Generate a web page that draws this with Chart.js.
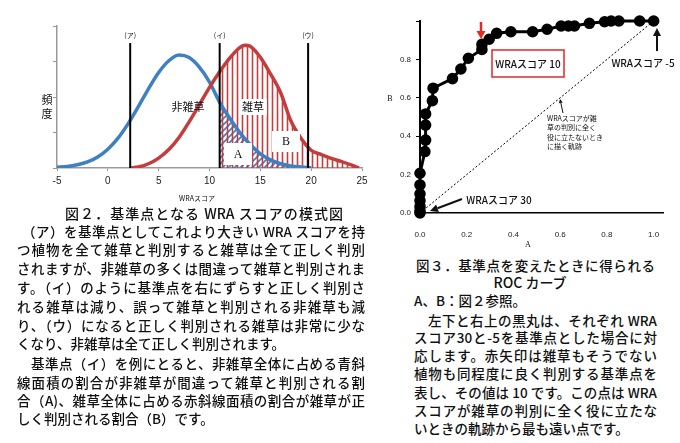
<!DOCTYPE html>
<html>
<head>
<meta charset="utf-8">
<title>WRAスコアとROCカーブ</title>
<script src="https://cdn.jsdelivr.net/npm/chart.js@4.4.1/dist/chart.umd.min.js"></script>
<style>
  body { margin: 0; width: 680px; height: 443px; background: #fff; overflow: hidden; position: relative;
         font-family: "Noto Sans CJK JP", sans-serif; color: #111; }
  .box { position: absolute; }
  .ln { position: absolute; font-size: 13.5px; line-height: 18px; height: 18px; font-weight: 500; }
  .j { text-align: justify; text-align-last: justify; }
</style>
</head>
<body>

<div class="box" style="left:0;top:0;width:380px;height:205px"><canvas id="dist"></canvas></div>
<div class="box" style="left:385px;top:0;width:295px;height:250px"><canvas id="roc"></canvas></div>

<!-- left caption and text -->
<div class="ln j" style="left:65px;top:204px;width:278px;font-size:14px">図２．基準点となる WRA スコアの模式図</div>
<div class="ln j" style="left:22px;top:222px;width:343px">（ア）を基準点としてこれより大きい WRA スコアを持</div>
<div class="ln j" style="left:17px;top:240px;width:348px">つ植物を全て雑草と判別すると雑草は全て正しく判別</div>
<div class="ln j" style="left:17px;top:259px;width:348px">されますが、非雑草の多くは間違って雑草と判別されま</div>
<div class="ln j" style="left:17px;top:278px;width:348px">す。（イ）のように基準点を右にずらすと正しく判別さ</div>
<div class="ln j" style="left:17px;top:297px;width:348px">れる雑草は減り、誤って雑草と判別される非雑草も減</div>
<div class="ln j" style="left:17px;top:316px;width:348px">り、（ウ）になると正しく判別される雑草は非常に少な</div>
<div class="ln" style="left:17px;top:334px">くなり、非雑草は全て正しく判別されます。</div>
<div class="ln j" style="left:17px;top:354px;width:348px">　基準点（イ）を例にとると、非雑草全体に占める青斜</div>
<div class="ln j" style="left:17px;top:373px;width:348px">線面積の割合が非雑草が間違って雑草と判別される割</div>
<div class="ln j" style="left:17px;top:391px;width:348px">合（A)、雑草全体に占める赤斜線面積の割合が雑草が正</div>
<div class="ln" style="left:17px;top:409px">しく判別される割合（B）です。</div>

<!-- right caption and text -->
<div class="ln j" style="left:416px;top:256px;width:239px;font-size:13.5px">図３．基準点を変えたときに得られる</div>
<div class="ln" style="left:480px;top:273px;width:100px;text-align:center;font-size:14px">ROC カーブ</div>
<div class="ln" style="left:414px;top:291px">A、B：図２参照。</div>
<div class="ln j" style="left:414px;top:311px;width:243px">　左下と右上の黒丸は、それぞれ WRA</div>
<div class="ln j" style="left:414px;top:328px;width:243px">スコア30と-5を基準点とした場合に対</div>
<div class="ln j" style="left:414px;top:346px;width:243px">応します。赤矢印は雑草もそうでない</div>
<div class="ln j" style="left:414px;top:364px;width:243px">植物も同程度に良く判別する基準点を</div>
<div class="ln j" style="left:414px;top:383px;width:243px">表し、その値は 10 です。この点は WRA</div>
<div class="ln j" style="left:414px;top:401px;width:243px">スコアが雑草の判別に全く役に立たな</div>
<div class="ln" style="left:414px;top:419px">いときの軌跡から最も遠い点です。</div>

<script>
// --- data: frequency curves (Fig. 2) ---
const blueX = [-5, -4, -3, -2, -1, 0, 1, 2, 3, 4, 5, 6, 7, 8, 9, 10, 11, 12, 13, 14, 15, 16, 17, 18, 19, 20];
const blueY = [0.02, 0.04, 0.09, 0.17, 0.31, 0.53, 0.84, 1.25, 1.73, 2.23, 2.69, 3.02, 3.18, 3.11, 2.84, 2.42, 1.85, 1.40, 0.99, 0.66, 0.40, 0.23, 0.12, 0.06, 0.03, 0.01];
const redX = [2.2, 3, 4, 5, 6, 7, 8, 9, 10, 11, 12, 13, 13.5, 14, 15, 16, 17, 18, 19, 20, 21, 22, 23, 24, 24.7];
const redY = [0, 0.03, 0.12, 0.28, 0.52, 0.86, 1.3, 1.78, 2.27, 2.71, 3.1, 3.4, 3.46, 3.43, 3.12, 2.65, 2.12, 1.33, 0.84, 0.5, 0.38, 0.27, 0.18, 0.08, 0];
const cutoffs = [2.2, 11, 19.7];
const cutoffNames = ['(ア)', '(イ)', '(ウ)'];
const cutoffTop = 3.52;
const hatchFrom = 11;
const scoreTicks = [-5, 0, 5, 10, 15, 20, 25];

// --- data: ROC curve (Fig. 3) ---
const rocA = [0, 0, 0, 0, 0, 0, 0, 0.021, 0.024, 0.024, 0.024, 0.053, 0.056, 0.139, 0.175, 0.207, 0.265, 0.265, 0.296, 0.328, 0.389, 0.482, 0.544, 0.604, 0.635, 0.661, 0.725, 0.79, 0.818, 0.851, 0.94, 1.0];
const rocB = [0, 0.01, 0.033, 0.065, 0.10, 0.146, 0.207, 0.32, 0.38, 0.458, 0.516, 0.585, 0.65, 0.70, 0.75, 0.806, 0.852, 0.878, 0.905, 0.936, 0.944, 0.944, 0.957, 0.974, 0.974, 0.974, 0.988, 0.996, 1, 1, 1, 1];
const diagA = [0, 1];
const diagB = [0, 1];
const rocTicks = [0, 0.2, 0.4, 0.6, 0.8, 1.0];

const pts = (xs, ys) => xs.map((x, i) => ({ x: x, y: ys[i] }));

function hatch(color, kind) {
  const c = document.createElement('canvas');
  const n = kind === 'v' ? 5 : 6;
  c.width = n; c.height = n;
  const g = c.getContext('2d');
  g.strokeStyle = color;
  g.lineWidth = 1.6;
  g.beginPath();
  if (kind === 'v') {
    g.moveTo(2.5, 0); g.lineTo(2.5, n);
  } else {
    g.moveTo(0, n); g.lineTo(n, 0);
    g.moveTo(-1, 1); g.lineTo(1, -1);
    g.moveTo(n - 1, n + 1); g.lineTo(n + 1, n - 1);
  }
  g.stroke();
  return g.createPattern(c, 'repeat');
}

const RED = '#c43c3c';
const BLUE = '#3f7fc4';
const JP = '"Noto Sans CJK JP", sans-serif';

// labels drawn on top of Fig. 2
const distLabels = {
  id: 'distLabels',
  afterDatasetsDraw(chart) {
    const ctx = chart.ctx, x = chart.scales.x;
    ctx.save();
    ctx.fillStyle = '#111';
    ctx.textAlign = 'center';
    ctx.textBaseline = 'middle';
    ctx.font = '7px ' + JP;
    cutoffs.forEach((c, i) => ctx.fillText(cutoffNames[i], x.getPixelForValue(c), 35));
    ctx.fillText('WRAスコア', 197, 198);

    ctx.font = '11px ' + JP;
    ctx.fillText('非雑草', 188, 107);
    ctx.fillStyle = '#fff';
    ctx.fillRect(240, 99, 27, 16);
    ctx.fillStyle = '#111';
    ctx.fillText('雑草', 253, 107);
    ctx.fillText('頻', 47, 100);
    ctx.fillText('度', 47, 114);

    ctx.fillStyle = '#fff';
    ctx.fillRect(224, 143, 28, 22);
    ctx.fillRect(272, 131, 28, 21);
    ctx.fillStyle = '#111';
    ctx.font = '12px "Liberation Serif", serif';
    ctx.fillText('A', 238, 155);
    ctx.fillText('B', 286, 142);
    ctx.restore();
  }
};

new Chart(document.getElementById('dist'), {
  type: 'line',
  data: {
    datasets: [
      ...cutoffs.map(c => ({
        data: [{ x: c, y: 0 }, { x: c, y: cutoffTop }],
        borderColor: '#000', borderWidth: 2, pointRadius: 0, fill: false
      })),
      { data: pts(redX, redY), borderColor: RED, borderWidth: 3.5, pointRadius: 0,
        cubicInterpolationMode: 'monotone', fill: false },
      { data: pts(blueX, blueY), borderColor: BLUE, borderWidth: 3.5, pointRadius: 0,
        cubicInterpolationMode: 'monotone', fill: false },
      { data: pts(redX, redY).filter(p => p.x >= hatchFrom), borderWidth: 0, pointRadius: 0,
        cubicInterpolationMode: 'monotone', fill: 'origin', backgroundColor: hatch(RED, 'v') },
      { data: pts(blueX, blueY).filter(p => p.x >= hatchFrom), borderWidth: 0, pointRadius: 0,
        cubicInterpolationMode: 'monotone', fill: 'origin', backgroundColor: hatch(BLUE, 'd') }
    ]
  },
  options: {
    responsive: true,
    maintainAspectRatio: false,
    animation: false,
    layout: { padding: { top: 26, right: 18, left: 0, bottom: 0 } },
    plugins: { legend: { display: false }, tooltip: { enabled: false } },
    scales: {
      x: {
        type: 'linear', min: -5, max: 25,
        afterBuildTicks: s => { s.ticks = scoreTicks.map(v => ({ value: v })); },
        afterFit: s => { s.height = 37; },
        border: { color: '#999', width: 1.5 },
        grid: { drawOnChartArea: false, tickLength: 3, color: '#999' },
        ticks: { font: { size: 10, family: '"Liberation Sans", Arial' }, color: '#222', padding: 4, maxRotation: 0 }
      },
      y: {
        min: 0, max: 4,
        afterFit: s => { s.width = 57; },
        border: { color: '#999', width: 1.5 },
        grid: { drawOnChartArea: false, tickLength: 4, color: '#999' },
        ticks: { stepSize: 1, callback: () => '' }
      }
    }
  },
  plugins: [distLabels]
});

function arrow(ctx, x1, y1, x2, y2, color, w, hl, hw) {
  const a = Math.atan2(y2 - y1, x2 - x1);
  const bx = x2 - hl * Math.cos(a), by = y2 - hl * Math.sin(a);
  ctx.strokeStyle = color; ctx.fillStyle = color; ctx.lineWidth = w;
  ctx.beginPath(); ctx.moveTo(x1, y1); ctx.lineTo(bx, by); ctx.stroke();
  ctx.beginPath();
  ctx.moveTo(x2, y2);
  ctx.lineTo(bx + hw * Math.sin(a), by - hw * Math.cos(a));
  ctx.lineTo(bx - hw * Math.sin(a), by + hw * Math.cos(a));
  ctx.closePath(); ctx.fill();
}

// annotations of Fig. 3
const rocLabels = {
  id: 'rocLabels',
  afterDraw(chart) {
    const ctx = chart.ctx;
    ctx.save();
    arrow(ctx, 96, 22, 96, 39, '#e8281e', 2.5, 8, 4.5);

    ctx.strokeStyle = '#e02828'; ctx.lineWidth = 1.5;
    ctx.strokeRect(107, 50, 72, 27);
    ctx.fillStyle = '#111';
    ctx.textAlign = 'center'; ctx.textBaseline = 'middle';
    ctx.font = '500 10px ' + JP;
    ctx.fillText('WRAスコア 10', 143, 64);
    ctx.fillText('WRAスコア -5', 258, 63);
    ctx.fillText('WRAスコア 30', 114, 200);
    arrow(ctx, 272, 51, 272, 28, '#111', 2, 8, 4);
    arrow(ctx, 77, 199, 45, 211, '#111', 2, 8, 4);
    arrow(ctx, 178, 113, 175, 99, '#111', 1, 4, 2);

    ctx.font = '7px ' + JP;
    ctx.textAlign = 'left';
    ['WRAスコアが雑', '草の判別に全く', '役に立たないとき', 'に描く軌跡'].forEach((t, i) =>
      ctx.fillText(t, 162, 118 + i * 9.6));

    ctx.font = '8px "Liberation Serif", serif';
    ctx.textAlign = 'center';
    ctx.fillText('B', 5, 99);
    ctx.fillText('A', 143, 245);
    ctx.restore();
  }
};

new Chart(document.getElementById('roc'), {
  type: 'line',
  data: {
    datasets: [
      { data: pts(rocA, rocB), borderColor: '#000', borderWidth: 3, pointRadius: 4.3,
        pointBackgroundColor: '#000', pointBorderColor: '#000', fill: false, clip: false },
      { data: pts(diagA, diagB), borderColor: '#000', borderWidth: 1, borderDash: [2, 2],
        pointRadius: 0, fill: false }
    ]
  },
  options: {
    responsive: true,
    maintainAspectRatio: false,
    animation: false,
    layout: { padding: { top: 21, right: 17, left: 0, bottom: 0 } },
    plugins: { legend: { display: false }, tooltip: { enabled: false } },
    scales: {
      x: {
        type: 'linear', min: 0, max: 1.04,
        afterBuildTicks: s => { s.ticks = rocTicks.map(v => ({ value: v })); },
        afterFit: s => { s.height = 37; },
        border: { color: '#000', width: 1.5 },
        grid: { drawOnChartArea: false, drawTicks: false },
        ticks: { font: { size: 8, family: '"Liberation Sans", Arial' }, color: '#222', padding: 17,
                 maxRotation: 0, callback: v => Number(v).toFixed(1) }
      },
      y: {
        min: 0, max: 1,
        afterBuildTicks: s => { s.ticks = rocTicks.map(v => ({ value: v })); },
        afterFit: s => { s.width = 35; },
        border: { color: '#000', width: 2 },
        grid: { drawOnChartArea: false, tickLength: 4, color: '#000' },
        ticks: { font: { size: 8, family: '"Liberation Sans", Arial' }, color: '#222', padding: 5,
                 callback: v => v >= 1 ? '' : Number(v).toFixed(1) }
      }
    }
  },
  plugins: [rocLabels]
});
</script>
</body>
</html>
